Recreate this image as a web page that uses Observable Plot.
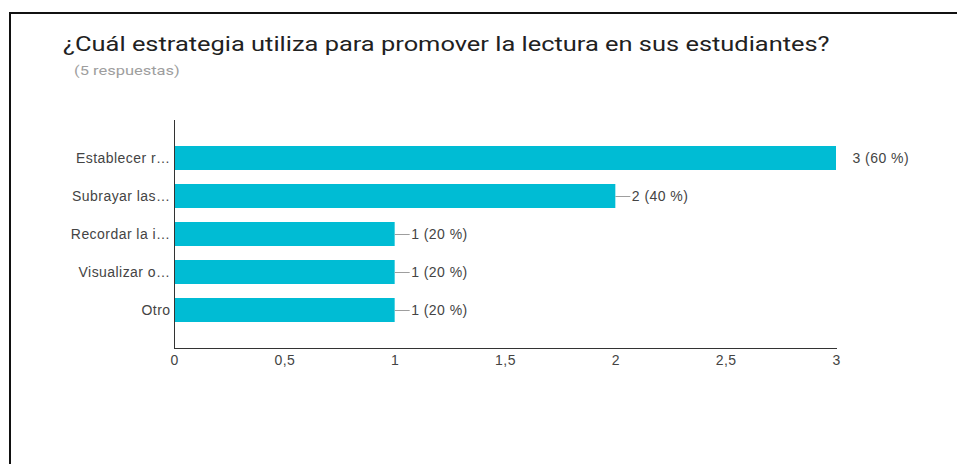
<!DOCTYPE html>
<html>
<head>
<meta charset="utf-8">
<script src="https://cdn.jsdelivr.net/npm/d3@7"></script>
<script src="https://cdn.jsdelivr.net/npm/@observablehq/plot@0.6"></script>
<style>
  html, body { margin: 0; padding: 0; background: #fff; }
  #wrap { position: relative; width: 957px; height: 464px; overflow: hidden; }
  #border { position: absolute; left: 9px; top: 12px; width: 960px; height: 470px;
            border-top: 2px solid #111; border-left: 2px solid #111; }
  #title { position: absolute; left: 63px; top: 32px; font-family: Roboto, sans-serif;
           font-size: 21px; color: #212121; white-space: nowrap;
           transform: scaleX(1.21); transform-origin: 0 0; }
  #subtitle { position: absolute; left: 74px; top: 62px; font-family: Roboto, sans-serif;
              font-size: 13.5px; color: #9e9e9e; white-space: nowrap;
              transform: scaleX(1.22); transform-origin: 0 0; }
  #chart { position: absolute; left: 0; top: 0; }
  #chart svg text { letter-spacing: 0.45px; }
</style>
</head>
<body>
<div id="wrap">
  <div id="border"></div>
  <div id="title">¿Cuál estrategia utiliza para promover la lectura en sus estudiantes?</div>
  <div id="subtitle">(5 respuestas)</div>
  <div id="chart"></div>
</div>
<script>
const categories = ["Establecer r…", "Subrayar las…", "Recordar la i…", "Visualizar o…", "Otro"];
const counts = [3, 2, 1, 1, 1];
const percents = [60, 40, 20, 20, 20];
const xTicks = [0, 0.5, 1, 1.5, 2, 2.5, 3];

const data = categories.map((c, i) => ({category: c, value: counts[i], pct: percents[i]}));
const maxV = d3.max(counts);
const fmt = d => String(d).replace(".", ",");

const plot = Plot.plot({
  width: 957,
  height: 464,
  marginLeft: 174,
  marginRight: 121,
  marginTop: 120,
  marginBottom: 116,
  style: {fontFamily: "'Liberation Sans', Arial, sans-serif", fontSize: "14px", color: "#444", background: "transparent", overflow: "visible"},
  x: {domain: [0, 3], ticks: xTicks, tickFormat: fmt, label: null},
  y: {domain: categories, paddingInner: 0.38, paddingOuter: 0.69, label: null},
  marks: [
    Plot.barX(data, {y: "category", x: "value", fill: "#00bcd4"}),
    Plot.ruleY(data.filter(d => d.value < maxV), {y: "category", x1: "value", x2: d => d.value + 0.068, stroke: "#9e9e9e", strokeWidth: 1}),
    Plot.text(data, {y: "category", x: "value", text: d => `${d.value} (${d.pct} %)`, textAnchor: "start", dx: 16, fill: "#444", fontSize: 14}),
    Plot.axisY({tickSize: 0, tickPadding: 4, fontSize: 14, fill: "#444"}),
    Plot.axisX({ticks: xTicks, tickFormat: fmt, tickSize: 0, tickPadding: 7, fontSize: 14, fill: "#444"}),
    Plot.frame({anchor: "bottom", stroke: "#333"}),
    Plot.frame({anchor: "left", stroke: "#333"})
  ]
});
document.getElementById("chart").appendChild(plot);
</script>
</body>
</html>
